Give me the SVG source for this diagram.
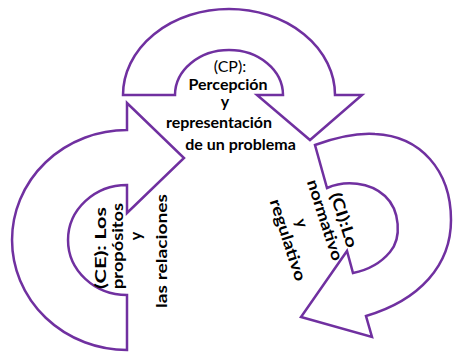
<svg xmlns="http://www.w3.org/2000/svg" width="453" height="355" viewBox="0 0 453 355">
<style>
.shape{fill:#ffffff;stroke:#7030A0;stroke-width:2.5;stroke-linejoin:miter}
.t{font-family:Lato,"Open Sans","Liberation Sans",sans-serif;font-size:16px;font-weight:bold;fill:#000;text-anchor:middle}
.r{font-weight:normal}
</style>
<rect width="453" height="355" fill="#ffffff"/>
<g id="node-cp">
<path class="shape" d="M123,95 A106,86 0 0 1 335,95 L362,95 L310,140 L257,95 L283,95 A54,45 0 0 0 175,95 Z"/>
<text class="t r" x="230" y="72" font-size="17">(CP):</text>
<text class="t" x="228" y="90">Percepción</text>
<text class="t" x="225" y="107">y</text>
<text class="t" x="219" y="128">representación</text>
<text class="t" x="240.5" y="150">de un problema</text>
</g>
<g id="node-ce">
<path class="shape" d="M127,103 L127,130 A115,110 0 0 0 127,350 L127,295 A59,55 0 0 1 127,185 L127,213 L184,158 Z"/>
<text class="t" transform="translate(105.5,248) rotate(-90)" textLength="82" lengthAdjust="spacingAndGlyphs">(CE): Los</text>
<text class="t" transform="translate(123,246) rotate(-90)" textLength="86" lengthAdjust="spacingAndGlyphs">propósitos</text>
<text class="t" transform="translate(141,236) rotate(-90)">y</text>
<text class="t" transform="translate(167,251) rotate(-90)" textLength="114" lengthAdjust="spacingAndGlyphs">las relaciones</text>
</g>
<g id="node-ci">
<path class="shape" d="M315,145 C340,136 360,133 375,134 C420,136 451,170 451,220 C451,265 420,300 366,316 L372,337 L301,317 L347,251 L353,273 C368,270 380,264 390,252 C402,238 400,210 385,196 C370,182 345,180 327,188 Z"/>
<text class="t" transform="translate(344,220) rotate(72)" dy="0.35em" textLength="57" lengthAdjust="spacingAndGlyphs">(CI):Lo</text>
<text class="t" transform="translate(325,220) rotate(72)" dy="0.35em" textLength="84" lengthAdjust="spacingAndGlyphs">normativo</text>
<text class="t" transform="translate(302,223) rotate(72)" dy="0.35em">y</text>
<text class="t" transform="translate(288,240) rotate(72)" dy="0.35em" textLength="85" lengthAdjust="spacingAndGlyphs">regulativo</text>
</g>
<g id="connectors"></g>
</svg>
